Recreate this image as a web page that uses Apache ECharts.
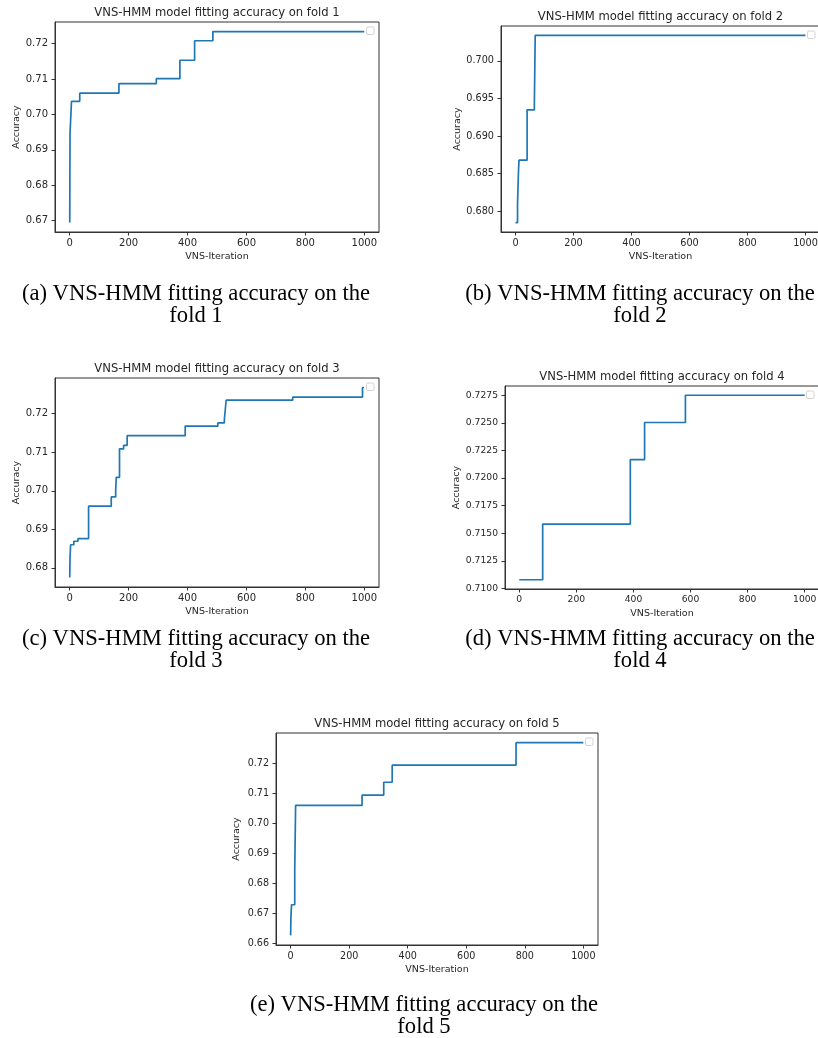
<!DOCTYPE html>
<html><head><meta charset="utf-8">
<script src="https://cdn.jsdelivr.net/npm/echarts@6/dist/echarts.min.js"></script>
<style>html,body{margin:0;padding:0;background:#fff}#c{width:818px;height:1038px}</style>
</head><body><div id="c"></div>
<script>
// ---- data ----
const xTickLabels = ['0', '200', '400', '600', '800', '1000'];

const fold1Iter = [0, 1, 6, 34, 167, 294, 374, 424, 486, 1000];
const fold1Acc = [0.6695, 0.6945, 0.7037, 0.7060, 0.7087, 0.7101, 0.7153, 0.7208, 0.7234, 0.7234];
const fold1YTicks = ['0.67', '0.68', '0.69', '0.70', '0.71', '0.72'];

const fold2Iter = [0, 7, 10, 12, 40, 65, 68, 1000];
const fold2Acc = [0.6785, 0.6810, 0.6850, 0.6868, 0.6935, 0.6942, 0.7034, 0.7034];
const fold2YTicks = ['0.680', '0.685', '0.690', '0.695', '0.700'];

const fold3Iter = [0, 1, 3, 14, 28, 64, 141, 156, 158, 169, 183, 195, 392, 503, 525, 531, 757, 994, 999];
const fold3Acc = [0.6775, 0.6825, 0.6860, 0.6869, 0.6876, 0.6960, 0.6984, 0.7002, 0.7035, 0.7109, 0.7118, 0.7143, 0.7168, 0.7176, 0.7185, 0.7235, 0.7243, 0.7268, 0.7268];
const fold3YTicks = ['0.68', '0.69', '0.70', '0.71', '0.72'];

const fold4Iter = [0, 82, 389, 439, 582, 1000];
const fold4Acc = [0.7108, 0.71584, 0.72168, 0.72503, 0.7275, 0.7275];
const fold4YTicks = ['0.7100', '0.7125', '0.7150', '0.7175', '0.7200', '0.7225', '0.7250', '0.7275'];

const fold5Iter = [0, 1, 3, 14, 17, 244, 318, 347, 770, 1000];
const fold5Acc = [0.6626, 0.6687, 0.6728, 0.6843, 0.7059, 0.7093, 0.7136, 0.7193, 0.7268, 0.7268];
const fold5YTicks = ['0.66', '0.67', '0.68', '0.69', '0.70', '0.71', '0.72'];

const titles = [
  'VNS-HMM model fitting accuracy on fold 1',
  'VNS-HMM model fitting accuracy on fold 2',
  'VNS-HMM model fitting accuracy on fold 3',
  'VNS-HMM model fitting accuracy on fold 4',
  'VNS-HMM model fitting accuracy on fold 5'
];
const captions = [
  '(a) VNS-HMM fitting accuracy on the\nfold 1',
  '(b) VNS-HMM fitting accuracy on the\nfold 2',
  '(c) VNS-HMM fitting accuracy on the\nfold 3',
  '(d) VNS-HMM fitting accuracy on the\nfold 4',
  '(e) VNS-HMM fitting accuracy on the\nfold 5'
];
const xName = 'VNS-Iteration';
const yName = 'Accuracy';

// ---- layout (positions/styles) ----
const layout = [
  { left: 55,  top: 22,  width: 324, height: 210, tickFont: 10,  yGap: 33, capX: 196, capY: 282.6 },
  { left: 501, top: 26,  width: 319, height: 206, tickFont: 9.7, yGap: 38, capX: 640, capY: 282.6 },
  { left: 55,  top: 378, width: 324, height: 209, tickFont: 10,  yGap: 33, capX: 196, capY: 628.3 },
  { left: 505, top: 386, width: 314, height: 203, tickFont: 9.2, yGap: 42, capX: 640, capY: 628.3 },
  { left: 276, top: 733, width: 322, height: 212, tickFont: 9.6, yGap: 34, capX: 424, capY: 993.6 }
];

const folds = [
  [fold1Iter, fold1Acc, fold1YTicks],
  [fold2Iter, fold2Acc, fold2YTicks],
  [fold3Iter, fold3Acc, fold3YTicks],
  [fold4Iter, fold4Acc, fold4YTicks],
  [fold5Iter, fold5Acc, fold5YTicks]
];

const SANS = '"DejaVu Sans", sans-serif';
const TXT = '#262626';
const SPINE = '#333333';
const xTickValues = xTickLabels.map(Number);

const option = { animation: false, grid: [], xAxis: [], yAxis: [], series: [], graphic: [] };

folds.forEach(([iter, acc, yLabels], i) => {
  const L = layout[i];
  const yVals = yLabels.map(parseFloat);
  const lo = Math.min(...acc), hi = Math.max(...acc);
  const pad = (hi - lo) * 0.05;
  const xLo = Math.min(...iter), xHi = 1000;
  const xPad = (xHi - xLo) * 0.05;

  option.grid.push({
    left: L.left, top: L.top, width: L.width, height: L.height,
    show: true, borderColor: SPINE, borderWidth: 1, backgroundColor: 'transparent',
    containLabel: false, outerBoundsMode: 'none'
  });
  option.xAxis.push({
    gridIndex: i, type: 'value', min: xLo - xPad, max: xHi + xPad,
    axisLine: { show: true, onZero: false, lineStyle: { color: SPINE, width: 1 } },
    axisTick: { show: true, length: 3.5, customValues: xTickValues, lineStyle: { color: SPINE, width: 1 } },
    axisLabel: { show: true, customValues: xTickValues, margin: 6, color: TXT, fontSize: L.tickFont, fontFamily: SANS,
      formatter: v => xTickLabels[xTickValues.indexOf(v)] ?? String(v) },
    splitLine: { show: false },
    name: xName, nameLocation: 'middle', nameGap: 20,
    nameTextStyle: { color: TXT, fontSize: 9.5, fontFamily: SANS }
  });
  option.yAxis.push({
    gridIndex: i, type: 'value', min: lo - pad, max: hi + pad,
    axisLine: { show: true, onZero: false, lineStyle: { color: SPINE, width: 1 } },
    axisTick: { show: true, length: 3.5, customValues: yVals, lineStyle: { color: SPINE, width: 1 } },
    axisLabel: { show: true, customValues: yVals, margin: 7, color: TXT, fontSize: L.tickFont, fontFamily: SANS,
      formatter: v => { const k = yVals.findIndex(t => Math.abs(t - v) < 1e-9); return k >= 0 ? yLabels[k] : ''; } },
    splitLine: { show: false },
    name: yName, nameLocation: 'middle', nameGap: L.yGap, nameRotate: 90,
    nameTextStyle: { color: TXT, fontSize: 9.5, fontFamily: SANS }
  });
  option.series.push({
    type: 'line', xAxisIndex: i, yAxisIndex: i, step: 'end',
    data: iter.map((x, j) => [x, acc[j]]),
    showSymbol: false, symbol: 'none',
    lineStyle: { color: '#1f77b4', width: 1.7 },
    emphasis: { disabled: true }, silent: true
  });
  // plot title
  option.graphic.push({
    type: 'text', silent: true,
    style: { text: titles[i], x: L.left + L.width / 2, y: L.top - 5.5 - 4,
      align: 'center', verticalAlign: 'middle',
      font: '11.6px ' + SANS, fill: TXT }
  });
  // empty legend frame (matplotlib legend with no handles)
  option.graphic.push({
    type: 'rect', silent: true,
    shape: { x: L.left + L.width - 12.5, y: L.top + 5, width: 7.5, height: 7.5, r: 1.5 },
    style: { fill: '#ffffff', stroke: '#d2d2d2', lineWidth: 1 }
  });
  // caption
  option.graphic.push({
    type: 'text', silent: true,
    style: { text: captions[i], x: L.capX, y: L.capY, align: 'center', verticalAlign: 'top',
      font: '22.6px "Liberation Serif", "Times New Roman", serif', lineHeight: 22, fill: '#000' }
  });
});

const chart = echarts.init(document.getElementById('c'), null, { renderer: 'canvas' });
chart.setOption(option);
</script>
</body></html>
